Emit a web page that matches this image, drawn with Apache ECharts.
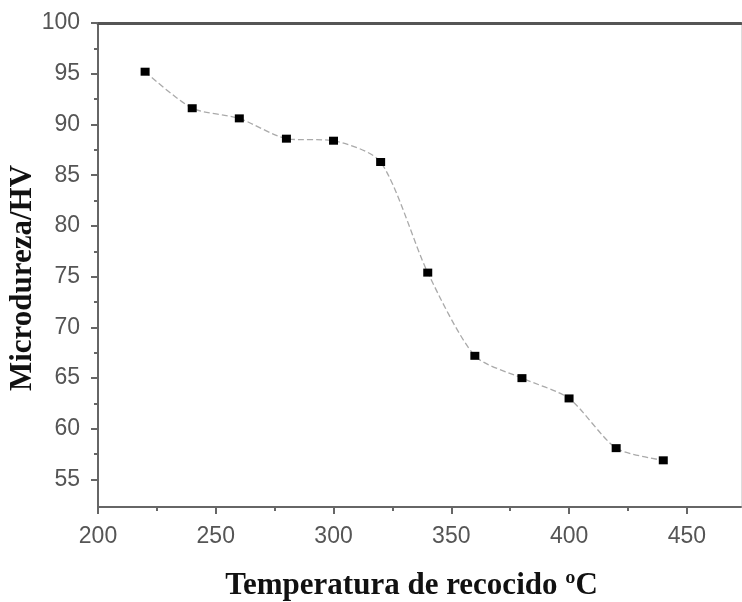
<!DOCTYPE html>
<html>
<head>
<meta charset="utf-8">
<script src="https://cdn.jsdelivr.net/npm/echarts@6/dist/echarts.min.js"></script>
<style>
  html, body { margin: 0; padding: 0; background: #fff; }
  #chart { width: 742px; height: 602px; }
</style>
</head>
<body>
<div id="chart"></div>
<script>
// Annealing temperature (°C) and measured microhardness (HV)
const temperatures = [220, 240, 260, 280, 300, 320, 340, 360, 380, 400, 420, 440];
const hardness = [95.2, 91.6, 90.6, 88.6, 88.4, 86.3, 75.4, 67.2, 65.0, 63.0, 58.1, 56.9];

// Tick positions
const xMajorTicks = [200, 250, 300, 350, 400, 450];
const xMinorTicks = [225, 275, 325, 375, 425];
const yMajorTicks = [55, 60, 65, 70, 75, 80, 85, 90, 95, 100];
const yMinorTicks = [57.5, 62.5, 67.5, 72.5, 77.5, 82.5, 87.5, 92.5, 97.5];

const X_MIN = 200, X_MAX = 473;
const Y_MIN = 52.3, Y_MAX = 100;

const axisGray = '#666';
const labelStyle = {
  color: '#555',
  fontFamily: '"Liberation Sans", Arial, sans-serif',
  fontSize: 23
};
const titleStyle = {
  color: '#111',
  fontFamily: '"Liberation Serif", "Times New Roman", serif',
  fontWeight: 'bold',
  fontSize: 31
};

const chart = echarts.init(document.getElementById('chart'), null, { renderer: 'canvas' });

chart.setOption({
  animation: false,
  backgroundColor: '#fff',
  grid: { left: 98, right: 1, top: 23, bottom: 95, outerBoundsMode: 'none', containLabel: false },
  xAxis: [
    {
      type: 'value', min: X_MIN, max: X_MAX, position: 'bottom',
      name: 'Temperatura de recocido ºC',
      nameLocation: 'middle', nameGap: 63, nameMoveOverlap: false,
      nameTextStyle: Object.assign({ padding: [0, 16, 0, 0] }, titleStyle),
      axisLine: { show: true, onZero: false, lineStyle: { color: axisGray, width: 2 } },
      axisTick: { show: true, inside: false, length: 7, customValues: xMajorTicks, lineStyle: { color: axisGray, width: 2 } },
      axisLabel: Object.assign({ margin: 18, customValues: xMajorTicks }, labelStyle),
      splitLine: { show: false }
    },
    {
      // minor ticks along the bottom axis
      type: 'value', min: X_MIN, max: X_MAX, position: 'bottom',
      axisLine: { show: false, onZero: false },
      axisTick: { show: true, length: 4, customValues: xMinorTicks, lineStyle: { color: axisGray, width: 2 } },
      axisLabel: { show: false },
      splitLine: { show: false }
    },
    {
      // heavy frame line along the top
      type: 'value', min: X_MIN, max: X_MAX, position: 'top',
      axisLine: { show: true, onZero: false, lineStyle: { color: '#555', width: 3 } },
      axisTick: { show: false }, axisLabel: { show: false }, splitLine: { show: false }
    }
  ],
  yAxis: [
    {
      type: 'value', min: Y_MIN, max: Y_MAX, position: 'left',
      name: 'Microdureza/HV',
      nameLocation: 'middle', nameGap: 60, nameRotate: 90, nameMoveOverlap: false,
      nameTextStyle: Object.assign({ padding: [0, 26, 0, 0] }, titleStyle),
      axisLine: { show: true, onZero: false, lineStyle: { color: axisGray, width: 2 } },
      axisTick: { show: true, length: 7, customValues: yMajorTicks, lineStyle: { color: axisGray, width: 2 } },
      axisLabel: Object.assign({ margin: 18, customValues: yMajorTicks }, labelStyle),
      splitLine: { show: false }
    },
    {
      // minor ticks along the left axis
      type: 'value', min: Y_MIN, max: Y_MAX, position: 'left',
      axisLine: { show: false, onZero: false },
      axisTick: { show: true, length: 4, customValues: yMinorTicks, lineStyle: { color: axisGray, width: 2 } },
      axisLabel: { show: false },
      splitLine: { show: false }
    },
    {
      // faint frame line on the right
      type: 'value', min: Y_MIN, max: Y_MAX, position: 'right',
      axisLine: { show: true, onZero: false, lineStyle: { color: '#ddd', width: 1 } },
      axisTick: { show: false }, axisLabel: { show: false }, splitLine: { show: false }
    }
  ],
  series: [
    {
      type: 'line',
      xAxisIndex: 0, yAxisIndex: 0,
      data: temperatures.map((t, i) => [t, hardness[i]]),
      smooth: 0.25,
      symbol: 'rect',
      symbolSize: [9, 8],
      itemStyle: { color: '#000' },
      lineStyle: { color: '#aaa', width: 1.3, type: [6, 3] }
    }
  ]
});
</script>
</body>
</html>
